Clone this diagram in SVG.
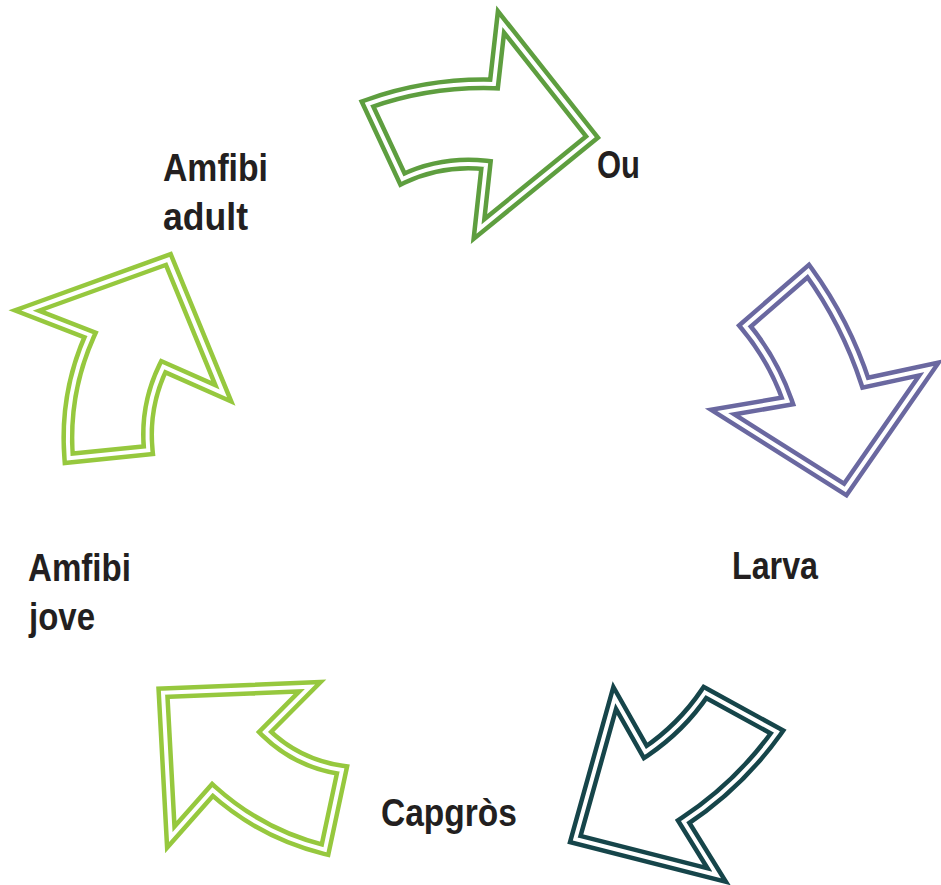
<svg xmlns="http://www.w3.org/2000/svg" xmlns:xlink="http://www.w3.org/1999/xlink" width="941" height="885" viewBox="0 0 941 885">
<style>
.o{fill:#fff;stroke-width:13;stroke-linejoin:miter;stroke-miterlimit:20}
.i{fill:none;stroke:#fff;stroke-width:4;stroke-linejoin:miter;stroke-miterlimit:20}
.t{font-family:"Liberation Sans Narrow","Liberation Sans",Arial,sans-serif;font-size:39px;font-weight:bold;fill:#231f20}
</style>
<defs>
<path id="p1" d="M367.5,104 Q428.9,82.1 494,84 L501,22 L592,137 L479,229 L486,165 Q442,160.2 402.5,179 Z"/>
<path id="p2" d="M745,326 L808.3,271 Q845.6,322.5 865.3,382.7 L929,369 L845.3,489.5 L722.7,412 L787.5,401 Q773,359.5 745,326 Z"/>
<path id="p3" d="M705,692.5 L777,732 Q738.7,785.5 683.7,821.7 L716.7,875 L575.3,839 L614.7,698 L645.3,752 Q680.9,728 705,692.5 Z"/>
<path id="p4" d="M163,692.7 L310,686.7 L265,732 Q297.3,763.6 342,770 L325,849.7 Q261.3,834 212.5,790 L170.8,837 Z"/>
<path id="p5" d="M27,310.5 L168.3,259.5 L223.3,393.3 L163.3,366.7 Q144,406.4 148.3,450.3 L68.7,458.3 Q63.6,393.9 90,335 Z"/>
</defs>
<rect width="941" height="885" fill="#fff"/>
<g id="connectors">
<g id="arrow-ou"><use xlink:href="#p1" href="#p1" class="o" stroke="#5e9e3f"/><use xlink:href="#p1" href="#p1" class="i"/></g>
<g id="arrow-larva"><use xlink:href="#p2" href="#p2" class="o" stroke="#6a68a0"/><use xlink:href="#p2" href="#p2" class="i"/></g>
<g id="arrow-capgros"><use xlink:href="#p3" href="#p3" class="o" stroke="#16454a"/><use xlink:href="#p3" href="#p3" class="i"/></g>
<g id="arrow-jove"><use xlink:href="#p4" href="#p4" class="o" stroke="#96c83e"/><use xlink:href="#p4" href="#p4" class="i"/></g>
<g id="arrow-adult"><use xlink:href="#p5" href="#p5" class="o" stroke="#96c83e"/><use xlink:href="#p5" href="#p5" class="i"/></g>
</g>
<g id="node-ou"><text class="t" x="597" y="178" textLength="43" lengthAdjust="spacingAndGlyphs">Ou</text></g>
<g id="node-larva"><text class="t" x="732" y="579" textLength="86" lengthAdjust="spacingAndGlyphs">Larva</text></g>
<g id="node-capgros"><text class="t" x="381" y="826" textLength="136" lengthAdjust="spacingAndGlyphs">Capgròs</text></g>
<g id="node-jove"><text class="t" x="28" y="581" textLength="103" lengthAdjust="spacingAndGlyphs">Amfibi</text><text class="t" x="29" y="630" textLength="66" lengthAdjust="spacingAndGlyphs">jove</text></g>
<g id="node-adult"><text class="t" x="163" y="181" textLength="105" lengthAdjust="spacingAndGlyphs">Amfibi</text><text class="t" x="163" y="230" textLength="85" lengthAdjust="spacingAndGlyphs">adult</text></g>
</svg>
